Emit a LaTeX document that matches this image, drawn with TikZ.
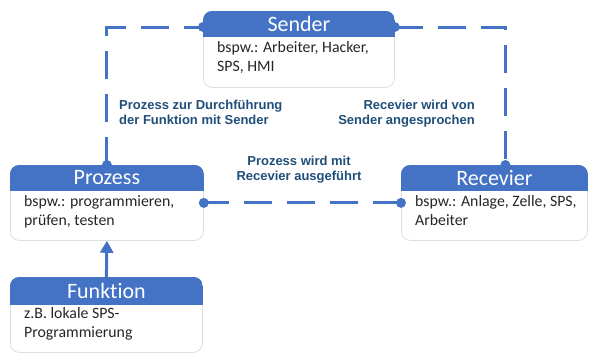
\documentclass[tikz,border=0pt]{standalone}
\usepackage{fontspec}
\setmainfont{Carlito}[Ligatures={NoCommon}]
\newfontfamily\lblfont{Liberation Sans}
\usetikzlibrary{arrows.meta}
\definecolor{hdrblue}{HTML}{4472C4}
\definecolor{lblblue}{HTML}{1F4E79}
\newcommand\cardbox[8]{%
 \node[card, minimum width=#4pt, minimum height=#5pt] (#1) at (#2,#3) {};
 \begin{scope}
  \clip[rounded corners=9pt] (#1.north west) rectangle (#1.south east);
  \fill[hdrblue] (#1.north west) rectangle ([yshift=-#6pt]#1.north east);
 \end{scope}
 \node[title] (#1-t) at ([yshift=-#6pt/2]#1.north) {#7};
 \node[body] (#1-b) at ([xshift=14pt,yshift=-30pt]#1.north west) {#8};
}
\begin{document}
\begin{tikzpicture}[x=1pt,y=-1pt,
  card/.style={draw=black!13, fill=white, rounded corners=9pt, line width=0.8pt, inner sep=0pt, anchor=north west},
  title/.style={text=white, font=\fontsize{22}{26}\selectfont, inner sep=0pt},
  body/.style={anchor=north west, inner sep=0pt, align=left, text=black!85, font=\fontsize{15.8}{19}\selectfont},
  lbl/.style={inner sep=0pt, text=lblblue, font=\lblfont\bfseries\fontsize{13}{15}\selectfont},
  dashline/.style={hdrblue, line width=3pt, dash pattern=on 28pt off 15pt}
]
\useasboundingbox (0,0) rectangle (589,354);

\cardbox{S}{203}{11}{191}{76}{26}{Sender}{bspw.: Arbeiter, Hacker,\\SPS, HMI}
\cardbox{P}{10}{165}{193}{75}{26}{Prozess}{bspw.: programmieren,\\prüfen, testen}
\cardbox{R}{401}{165}{186}{75}{26}{Recevier}{bspw.: Anlage, Zelle, SPS,\\Arbeiter}
\cardbox{F}{10}{277}{192}{75}{28}{Funktion}{z.B. lokale SPS-\\Programmierung}

\node[lbl, anchor=north west, align=left] (l1) at (119,100) {Prozess zur Durchführung\\der Funktion mit Sender};
\node[lbl, anchor=north east, align=right] (l2) at (475,100) {Recevier wird von\\Sender angesprochen};
\node[lbl, anchor=north, align=center] (l3) at (299,156) {Prozess wird mit\\Recevier ausgeführt};

\coordinate (Sw) at ([yshift=-16pt]S.north west);
\coordinate (Se) at ([yshift=-16pt]S.north east);
\coordinate (Rn) at ([xshift=11pt]R.north);
\draw[dashline] (P.north) |- (Sw);
\draw[dashline] (Se) -| (Rn);
\draw[dashline] (R.west) -- (P.east);
\foreach \p in {P.north, Sw, Se, Rn, R.west, P.east} \fill[hdrblue] (\p) circle[radius=5pt];
\draw[hdrblue, line width=3pt, -{Triangle[width=13pt,length=12pt]}] (F.north) -- (P.south);
\end{tikzpicture}
\end{document}
